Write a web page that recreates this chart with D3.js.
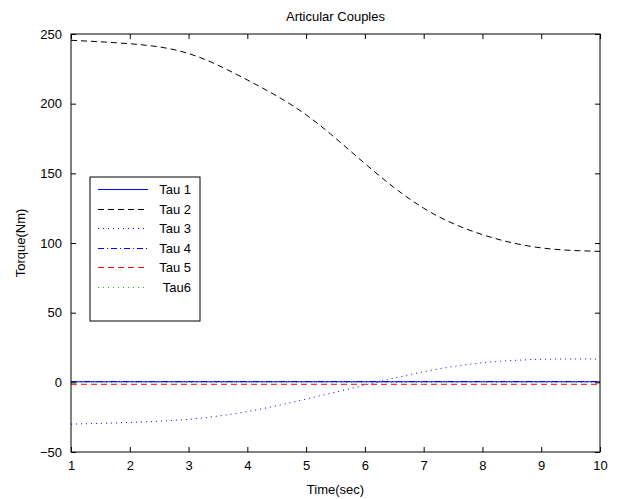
<!DOCTYPE html>
<html>
<head>
<meta charset="utf-8">
<script src="https://cdn.jsdelivr.net/npm/d3@7"></script>
<style>
body { margin: 0; background: #fff; }
svg { font-family: "Liberation Sans", Arial, sans-serif; }
</style>
</head>
<body>
<div class="container"></div>
<script>
const WIDTH = 619;
const HEIGHT = 499;
const LEFT = 71, RIGHT = 600, TOP = 34, BOTTOM = 452;
const FONT = 13;

// data
var times = [1, 2, 3, 4, 5, 6, 7, 8, 9, 10];
var tau1 = [0.4, 0.4, 0.4, 0.4, 0.4, 0.4, 0.4, 0.4, 0.4, 0.4];
var tau2 = [245.5, 243, 236, 217, 192, 157, 125, 106, 96.5, 94];
var tau3 = [-30, -28.8, -26.5, -21, -12, -2, 7.6, 14, 16.5, 16.7];
var tau4 = [0.6, 0.6, 0.6, 0.6, 0.6, 0.6, 0.6, 0.6, 0.6, 0.6];
var tau5 = [-1.4, -1.4, -1.4, -1.4, -1.4, -1.4, -1.4, -1.4, -1.4, -1.4];
var tau6 = [0, 0, 0, 0, 0, 0, 0, 0, 0, 0];
var xTicks = [1, 2, 3, 4, 5, 6, 7, 8, 9, 10];
var yTicks = [-50, 0, 50, 100, 150, 200, 250];
var seriesNames = ["Tau 1", "Tau 2", "Tau 3", "Tau 4", "Tau 5", "Tau6"];

var series = [
    {name: seriesNames[0], values: tau1, color: "#0000ff", dash: null},
    {name: seriesNames[1], values: tau2, color: "#000000", dash: "6,4"},
    {name: seriesNames[2], values: tau3, color: "#0000ff", dash: "1,4"},
    {name: seriesNames[3], values: tau4, color: "#0000ff", dash: "6,3,1,3"},
    {name: seriesNames[4], values: tau5, color: "#ff0000", dash: "6,4"},
    {name: seriesNames[5], values: tau6, color: "#00c000", dash: "1,4"}
];

var translate = function(x, y){
    return "translate(" + x + "," + y + ")";
};

var svg = d3.select(".container").append("svg")
    .attr("width", WIDTH)
    .attr("height", HEIGHT);

var xScale = d3.scaleLinear().domain([1, 10]).range([LEFT, RIGHT]);
var yScale = d3.scaleLinear().domain([-50, 250]).range([BOTTOM, TOP]);

// draw the lines first, the frame over them
var line = d3.line()
    .x(function(d, i) { return xScale(times[i]); })
    .y(function(d) { return yScale(d); })
    .curve(d3.curveNatural);

series.forEach(function(s){
    svg.append("path")
        .attr("d", line(s.values))
        .attr("fill", "none")
        .attr("stroke", s.color)
        .attr("stroke-width", 1)
        .attr("stroke-dasharray", s.dash);
});

var styleAxis = function(g){
    g.select(".domain").remove();
    g.selectAll(".tick line").attr("stroke", "#000");
    g.selectAll(".tick text").attr("fill", "#000").attr("font-size", FONT)
        .attr("font-family", "Liberation Sans, Arial, sans-serif");
};

svg.append("g").attr("transform", translate(0, BOTTOM))
    .call(d3.axisBottom(xScale).tickValues(xTicks).tickFormat(d3.format("d"))
        .tickSizeInner(-5).tickSizeOuter(0).tickPadding(9))
    .call(styleAxis);
svg.append("g").attr("transform", translate(0, TOP))
    .call(d3.axisTop(xScale).tickValues(xTicks).tickFormat("")
        .tickSizeInner(-5).tickSizeOuter(0))
    .call(styleAxis);
svg.append("g").attr("transform", translate(LEFT, 0))
    .call(d3.axisLeft(yScale).tickValues(yTicks).tickFormat(d3.format("d"))
        .tickSizeInner(-5).tickSizeOuter(0).tickPadding(9))
    .call(styleAxis);
svg.append("g").attr("transform", translate(RIGHT, 0))
    .call(d3.axisRight(yScale).tickValues(yTicks).tickFormat("")
        .tickSizeInner(-5).tickSizeOuter(0))
    .call(styleAxis);

svg.append("rect")
    .attr("x", LEFT).attr("y", TOP)
    .attr("width", RIGHT - LEFT).attr("height", BOTTOM - TOP)
    .attr("fill", "none").attr("stroke", "#000").attr("stroke-width", 1);

svg.append("text")
    .attr("x", (LEFT + RIGHT) / 2).attr("y", 21)
    .attr("text-anchor", "middle").attr("font-size", FONT)
    .text("Articular Couples");

svg.append("text")
    .attr("x", (LEFT + RIGHT) / 2).attr("y", 494)
    .attr("text-anchor", "middle").attr("font-size", FONT)
    .text("Time(sec)");

svg.append("text")
    .attr("transform", translate(25, (TOP + BOTTOM) / 2) + " rotate(-90)")
    .attr("text-anchor", "middle").attr("font-size", FONT)
    .text("Torque(Nm)");

// legend
var legend = svg.append("g").attr("transform", translate(90, 177));
legend.append("rect")
    .attr("width", 110).attr("height", 144)
    .attr("fill", "#fff").attr("stroke", "#000");

var rows = legend.selectAll("g.row").data(series).enter().append("g")
    .attr("class", "row")
    .attr("transform", function(d, i){ return translate(0, Math.round(12 + i * 19.5) + 0.5); });

rows.append("line")
    .attr("x1", 8).attr("x2", 58)
    .attr("stroke", function(d){ return d.color; })
    .attr("stroke-dasharray", function(d){ return d.dash; });

rows.append("text")
    .attr("x", 101).attr("y", 4.5)
    .attr("text-anchor", "end").attr("font-size", FONT)
    .text(function(d){ return d.name; });
</script>
</body>
</html>
